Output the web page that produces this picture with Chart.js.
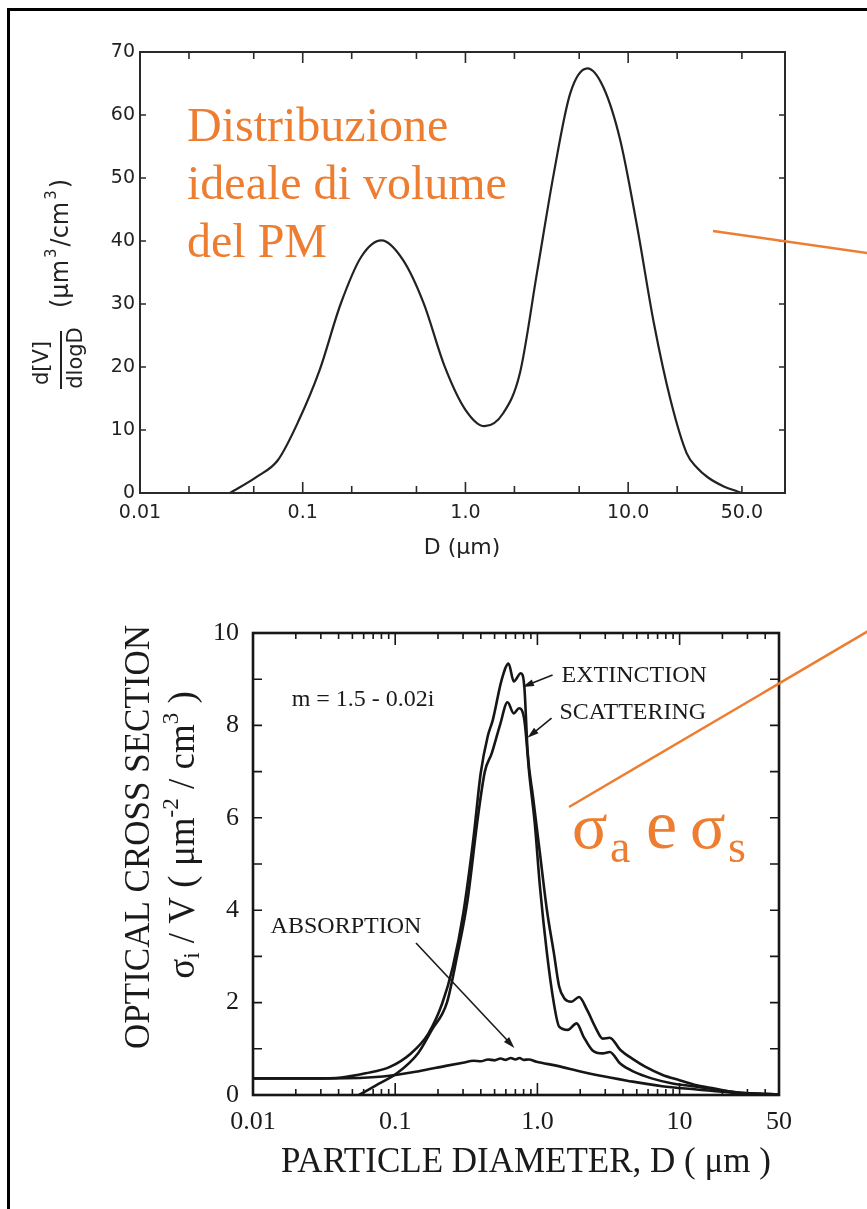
<!DOCTYPE html>
<html>
<head>
<meta charset="utf-8">
<script src="https://cdn.jsdelivr.net/npm/chart.js@4.4.1/dist/chart.umd.min.js"></script>
<style>
  html, body { margin: 0; padding: 0; background: #fff; }
  #page { position: relative; width: 867px; height: 1209px; overflow: hidden; background: #fff; }
  #page canvas { position: absolute; left: 0; }
  #volChart { top: 0; }
  #optChart { top: 590px; }
  #overlay { position: absolute; left: 0; top: 0; }
</style>
</head>
<body>
<div id="page">
  <canvas id="volChart" width="867" height="590"></canvas>
  <canvas id="optChart" width="867" height="619"></canvas>
  <svg id="overlay" width="867" height="1209">
    <line x1="8.5" y1="8" x2="8.5" y2="1209" stroke="#000" stroke-width="3"/>
    <line x1="7" y1="9.5" x2="867" y2="9.5" stroke="#000" stroke-width="3"/>
    <g fill="#ed7d31" font-family="Liberation Serif, Times New Roman, serif">
      <text x="187" y="141" font-size="48">Distribuzione</text>
      <text x="187" y="199" font-size="48">ideale di volume</text>
      <text x="187" y="257" font-size="48">del PM</text>
      <text x="572" y="848" font-size="66">σ</text>
      <text x="610" y="862" font-size="46">a</text>
      <text x="646" y="848" font-size="70">e</text>
      <text x="690" y="848" font-size="66">σ</text>
      <text x="728" y="862" font-size="46">s</text>
    </g>
    <line x1="713" y1="231" x2="870" y2="253.5" stroke="#ed7d31" stroke-width="2.5"/>
    <line x1="569" y1="807" x2="870" y2="630" stroke="#ed7d31" stroke-width="2.5"/>
  </svg>
</div>
<script>
// ---- top panel: ideal PM volume distribution ----
const volD = [0.0357, 0.0524, 0.0703, 0.0945, 0.127, 0.171, 0.229, 0.305, 0.413, 0.554, 0.745, 1.0, 1.31, 1.71, 2.16, 2.75, 3.49, 4.40, 5.62, 7.04, 8.94, 11.35, 14.4, 18.2, 22.9, 26.5, 30.8, 39.0, 46.9, 50];
const volV = [0, 2.6, 5.2, 11.5, 19.5, 30.0, 37.5, 40.1, 37.0, 30.1, 20.1, 13.2, 10.6, 12.7, 19.0, 34.9, 50.7, 63.4, 67.4, 64.4, 56.0, 42.3, 26.9, 14.8, 6.3, 4.0, 2.5, 1.0, 0.25, 0];
const volXTicks = [0.01, 0.1, 1, 10, 50];
const volXLabels = ['0.01', '0.1', '1.0', '10.0', '50.0'];
const volMinorTicks = [0.02, 0.05, 0.2, 0.5, 2, 5, 20, 50];
const volMajorTicks = [0.1, 1, 10];
const volYTicks = [10, 20, 30, 40, 50, 60];

// ---- bottom panel: optical cross sections, m = 1.5 - 0.02i ----
const extD = [0.01, 0.0265, 0.0417, 0.0619, 0.0918, 0.129, 0.171, 0.214, 0.254, 0.301, 0.356, 0.399, 0.447, 0.486, 0.56, 0.627, 0.682, 0.764, 0.809, 0.855, 0.931, 1.042, 1.167, 1.306, 1.422, 1.548, 1.733, 1.963, 2.235, 2.573, 2.882, 3.227, 3.82, 4.79, 5.68, 7.53, 9.98, 13.2, 17.6, 23.3, 29.2, 41.0, 50];
const extV = [0.36, 0.36, 0.38, 0.47, 0.61, 0.90, 1.33, 1.98, 2.77, 3.93, 5.59, 6.96, 7.76, 8.12, 8.98, 9.34, 8.95, 9.13, 8.84, 7.4, 6.46, 5.23, 4.0, 3.07, 2.35, 2.09, 2.02, 2.12, 1.84, 1.45, 1.22, 1.24, 0.98, 0.76, 0.62, 0.44, 0.32, 0.21, 0.14, 0.07, 0.04, 0.02, 0.01];
const scatD = [0.0556, 0.0733, 0.1028, 0.1444, 0.181, 0.231, 0.272, 0.322, 0.381, 0.427, 0.478, 0.545, 0.617, 0.682, 0.743, 0.809, 0.88, 0.957, 1.042, 1.167, 1.306, 1.422, 1.637, 1.886, 2.113, 2.432, 2.882, 3.227, 3.82, 4.79, 6.35, 8.91, 13.2, 18.6, 26.1, 41.0, 50];
const scatV = [0, 0.21, 0.47, 0.90, 1.41, 2.0, 3.0, 4.2, 6.0, 7.0, 7.4, 8.0, 8.5, 8.26, 8.37, 8.12, 6.9, 5.9, 4.51, 3.07, 1.98, 1.48, 1.41, 1.55, 1.26, 0.97, 0.9, 0.93, 0.68, 0.5, 0.36, 0.25, 0.18, 0.11, 0.05, 0.02, 0.01];
const absD = [0.01, 0.0352, 0.082, 0.1444, 0.227, 0.30, 0.356, 0.40, 0.45, 0.5, 0.55, 0.6, 0.65, 0.7, 0.75, 0.8, 0.87, 0.985, 1.383, 1.941, 2.72, 4.28, 7.53, 13.2, 23.3, 41.0, 50];
const absV = [0.36, 0.36, 0.40, 0.51, 0.63, 0.70, 0.74, 0.73, 0.77, 0.75, 0.79, 0.76, 0.80, 0.77, 0.80, 0.76, 0.77, 0.72, 0.63, 0.52, 0.42, 0.31, 0.19, 0.12, 0.05, 0.02, 0.01];
const optXTicks = [0.01, 0.1, 1, 10, 50];
const optXLabels = ['0.01', '0.1', '1.0', '10', '50'];
const optMajorTicks = [0.1, 1, 10];
const optMinorTicks = [0.02, 0.03, 0.04, 0.05, 0.06, 0.07, 0.08, 0.09, 0.2, 0.3, 0.4, 0.5, 0.6, 0.7, 0.8, 0.9, 2, 3, 4, 5, 6, 7, 8, 9, 20, 30, 40];
const optYTicks = [1, 2, 3, 4, 5, 6, 7, 8, 9];

// text notes and arrows, in data units of the bottom panel
const optNotes = [
  { text: 'm = 1.5 - 0.02i', d: 0.0187, v: 8.55 },
  { text: 'EXTINCTION', d: 1.48, v: 9.07 },
  { text: 'SCATTERING', d: 1.43, v: 8.27 },
  { text: 'ABSORPTION', d: 0.0133, v: 3.64 }
];
const optArrows = [
  { from: [1.278, 9.09], to: [0.785, 8.83] },
  { from: [1.257, 8.16], to: [0.851, 7.73] },
  { from: [0.140, 3.29], to: [0.689, 1.02] }
];

const pts = (xs, ys) => xs.map((x, i) => ({ x: x, y: ys[i] }));

// box around the plot with inward tick marks
const framePlugin = {
  id: 'frame',
  afterDatasetsDraw(chart, args, o) {
    const { ctx, chartArea: a, scales: { x, y } } = chart;
    ctx.save();
    ctx.strokeStyle = o.color;
    ctx.lineWidth = o.width;
    ctx.strokeRect(a.left, a.top, a.right - a.left, a.bottom - a.top);
    ctx.lineWidth = o.tickWidth;
    ctx.beginPath();
    const xt = (v, len) => {
      const p = x.getPixelForValue(v);
      ctx.moveTo(p, a.bottom); ctx.lineTo(p, a.bottom - len);
      ctx.moveTo(p, a.top); ctx.lineTo(p, a.top + len);
    };
    o.major.forEach(v => xt(v, o.majorLen));
    o.minor.forEach(v => xt(v, o.minorLen));
    o.yTicks.forEach(v => {
      const p = y.getPixelForValue(v);
      ctx.moveTo(a.left, p); ctx.lineTo(a.left + o.yLen, p);
      ctx.moveTo(a.right, p); ctx.lineTo(a.right - o.yLen, p);
    });
    ctx.stroke();
    ctx.restore();
  }
};

const volTitles = {
  id: 'volTitles',
  afterDraw(chart) {
    const ctx = chart.ctx;
    ctx.save();
    ctx.fillStyle = '#222';
    ctx.textAlign = 'center';
    ctx.textBaseline = 'middle';
    ctx.font = '22px "DejaVu Sans"';
    ctx.fillText('D (μm)', 462, 548);
    ctx.translate(61, 360);
    ctx.rotate(-Math.PI / 2);
    ctx.font = '21px "DejaVu Sans"';
    ctx.fillText('d[V]', -3, -18);
    ctx.fillText('dlogD', 2, 16);
    ctx.fillRect(-29, -1, 58, 2);
    ctx.textAlign = 'left';
    let u = 52;
    const piece = (t, size, dv) => {
      ctx.font = size + 'px "DejaVu Sans"';
      ctx.fillText(t, u, dv);
      u += ctx.measureText(t).width + 2;
    };
    piece('(μm', 24, 1); piece('3', 15, -9); piece('/cm', 24, 1); piece('3', 15, -9); piece(')', 24, 1);
    ctx.restore();
  }
};

function drawArrow(ctx, x1, y1, x2, y2) {
  const ang = Math.atan2(y2 - y1, x2 - x1);
  ctx.beginPath();
  ctx.moveTo(x1, y1);
  ctx.lineTo(x2 - 8 * Math.cos(ang), y2 - 8 * Math.sin(ang));
  ctx.stroke();
  ctx.beginPath();
  ctx.moveTo(x2, y2);
  ctx.lineTo(x2 - 12 * Math.cos(ang - 0.3), y2 - 12 * Math.sin(ang - 0.3));
  ctx.lineTo(x2 - 12 * Math.cos(ang + 0.3), y2 - 12 * Math.sin(ang + 0.3));
  ctx.closePath();
  ctx.fill();
}

const optText = {
  id: 'optText',
  afterDraw(chart) {
    const { ctx, scales: { x, y } } = chart;
    ctx.save();
    ctx.fillStyle = '#1a1a1a';
    ctx.strokeStyle = '#1a1a1a';
    ctx.lineWidth = 1.6;
    ctx.textAlign = 'left';
    ctx.textBaseline = 'middle';
    ctx.font = '24px "Liberation Serif"';
    optNotes.forEach(n => ctx.fillText(n.text, x.getPixelForValue(n.d), y.getPixelForValue(n.v)));
    optArrows.forEach(a => drawArrow(ctx,
      x.getPixelForValue(a.from[0]), y.getPixelForValue(a.from[1]),
      x.getPixelForValue(a.to[0]), y.getPixelForValue(a.to[1])));

    // axis titles
    ctx.textAlign = 'center';
    ctx.font = '35px "Liberation Serif"';
    ctx.fillText('PARTICLE DIAMETER, D ( μm )', 526, 573);
    ctx.save();
    ctx.translate(140, 247);
    ctx.rotate(-Math.PI / 2);
    ctx.fillText('OPTICAL CROSS SECTION', 0, 0);
    ctx.restore();

    ctx.translate(184, 245);
    ctx.rotate(-Math.PI / 2);
    ctx.textAlign = 'left';
    const parts = [['σ', 37, 0], ['i', 23, 9], [' / V ( μm', 37, 0], ['-2', 23, -12], [' / cm', 37, 0], ['3', 23, -12], [' )', 37, 0]];
    let total = 0;
    parts.forEach(p => { ctx.font = p[1] + 'px "Liberation Serif"'; total += ctx.measureText(p[0]).width; });
    let u = -total / 2;
    parts.forEach(p => {
      ctx.font = p[1] + 'px "Liberation Serif"';
      ctx.fillText(p[0], u, p[2]);
      u += ctx.measureText(p[0]).width;
    });
    ctx.restore();
  }
};

const hidden = { legend: { display: false }, tooltip: { enabled: false } };

new Chart(document.getElementById('volChart'), {
  type: 'scatter',
  data: {
    datasets: [{
      data: pts(volD, volV),
      showLine: true,
      borderColor: '#222',
      borderWidth: 2.2,
      pointRadius: 0,
      tension: 0.4,
      cubicInterpolationMode: 'monotone'
    }]
  },
  options: {
    responsive: false,
    animation: false,
    layout: { padding: { top: 52, right: 82, bottom: 0, left: 0 } },
    plugins: Object.assign({}, hidden, {
      frame: { color: '#2a2a2a', width: 2, tickWidth: 1.6, major: volMajorTicks, minor: volMinorTicks, majorLen: 11, minorLen: 7, yTicks: volYTicks, yLen: 6 }
    }),
    scales: {
      x: {
        type: 'logarithmic', min: 0.01, max: 92,
        afterBuildTicks: s => { s.ticks = volXTicks.map(v => ({ value: v })); },
        afterFit: s => { s.height = 97; },
        grid: { display: false, drawTicks: false },
        border: { display: false },
        ticks: { callback: (v, i) => volXLabels[i], padding: 9, autoSkip: false, maxRotation: 0, color: '#222', font: { family: 'DejaVu Sans', size: 19 } }
      },
      y: {
        min: 0, max: 70,
        afterFit: s => { s.width = 140; },
        grid: { display: false, drawTicks: false },
        border: { display: false },
        ticks: { stepSize: 10, padding: 5, color: '#222', font: { family: 'DejaVu Sans', size: 19 } }
      }
    }
  },
  plugins: [framePlugin, volTitles]
});

const lineStyle = { showLine: true, borderColor: '#161616', borderWidth: 2.6, pointRadius: 0, tension: 0.4, cubicInterpolationMode: 'monotone' };

new Chart(document.getElementById('optChart'), {
  type: 'scatter',
  data: {
    datasets: [
      Object.assign({ label: 'EXTINCTION', data: pts(extD, extV) }, lineStyle),
      Object.assign({ label: 'SCATTERING', data: pts(scatD, scatV) }, lineStyle),
      Object.assign({ label: 'ABSORPTION', data: pts(absD, absV) }, lineStyle)
    ]
  },
  options: {
    responsive: false,
    animation: false,
    layout: { padding: { top: 43, right: 88, bottom: 0, left: 0 } },
    plugins: Object.assign({}, hidden, {
      frame: { color: '#161616', width: 2.6, tickWidth: 1.6, major: optMajorTicks, minor: optMinorTicks, majorLen: 12, minorLen: 6, yTicks: optYTicks, yLen: 9 }
    }),
    scales: {
      x: {
        type: 'logarithmic', min: 0.01, max: 50,
        afterBuildTicks: s => { s.ticks = optXTicks.map(v => ({ value: v })); },
        afterFit: s => { s.height = 114; },
        grid: { display: false, drawTicks: false },
        border: { display: false },
        ticks: { callback: (v, i) => optXLabels[i], padding: 12, autoSkip: false, maxRotation: 0, color: '#1a1a1a', font: { family: 'Liberation Serif', size: 26 } }
      },
      y: {
        min: 0, max: 10,
        afterFit: s => { s.width = 253; },
        grid: { display: false, drawTicks: false },
        border: { display: false },
        ticks: { stepSize: 2, padding: 14, color: '#1a1a1a', font: { family: 'Liberation Serif', size: 26 } }
      }
    }
  },
  plugins: [framePlugin, optText]
});
</script>
</body>
</html>
